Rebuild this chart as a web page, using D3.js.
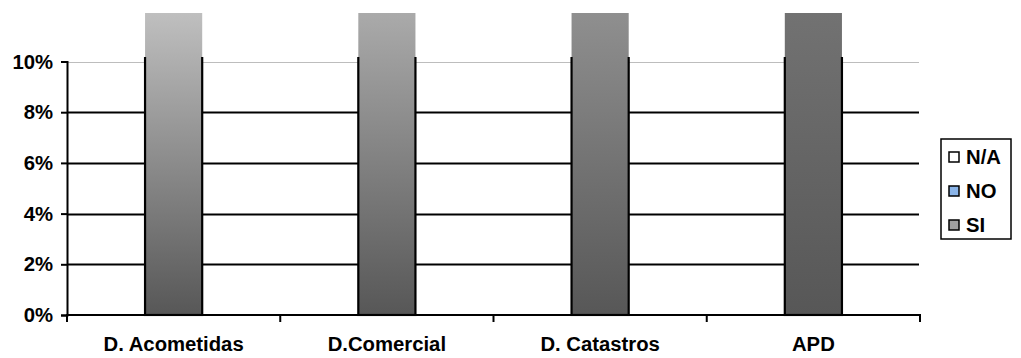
<!DOCTYPE html>
<html>
<head>
<meta charset="utf-8">
<script src="https://cdn.jsdelivr.net/npm/d3@7"></script>
<style>
  html, body { margin: 0; padding: 0; background: #fff; }
  svg { display: block; }
  text { font-family: "Liberation Sans", Arial, sans-serif; font-weight: bold; fill: #000; }
</style>
</head>
<body>
<svg id="chart" width="1021" height="358"></svg>
<script>
// ---- data ----
const categories = ["D. Acometidas", "D.Comercial", "D. Catastros", "APD"];
const seriesNames = ["N/A", "NO", "SI"];
const naValues = [0, 0, 0, 0];
const noValues = [0, 0, 0, 0];
const siValues = [1, 1, 1, 1];
const yTicks = [0, 0.02, 0.04, 0.06, 0.08, 0.10];

// ---- styles ----
const barTopColors = ["#bfbfbf", "#aaaaaa", "#8f8f8f", "#727272"];
const barBottomColor = "#575757";
const legendSwatch = { "N/A": "#ffffff", "NO": "#8ab4e8", "SI": "#a0a0a0" };
const fontSize = "20.3px";

const svg = d3.select("#chart");
const left = 67, right = 920, bottom = 315, top10 = 61.5, fillTop = 13;

const x = d3.scaleBand().domain(categories).range([left, right]).padding(0);
const y = d3.scaleLinear().domain([0, 0.1]).range([bottom, top10]);

const rows = categories.map((c, i) => ({ cat: c, "N/A": naValues[i], "NO": noValues[i], "SI": siValues[i] }));
const stacked = d3.stack().keys(seriesNames)(rows);

const defs = svg.append("defs");
categories.forEach((c, i) => {
  const g = defs.append("linearGradient").attr("id", "grad" + i)
    .attr("gradientUnits", "userSpaceOnUse")
    .attr("x1", 0).attr("x2", 0).attr("y1", fillTop).attr("y2", bottom);
  g.append("stop").attr("offset", 0).attr("stop-color", barTopColors[i]);
  g.append("stop").attr("offset", 1).attr("stop-color", barBottomColor);
});
defs.append("clipPath").attr("id", "fillClip").append("rect")
  .attr("x", 0).attr("y", fillTop).attr("width", 1021).attr("height", bottom - fillTop + 2);
defs.append("clipPath").attr("id", "lineClip").append("rect")
  .attr("x", 0).attr("y", top10 - 4.5).attr("width", 1021).attr("height", bottom - top10 + 6);

// gridlines
svg.append("g").selectAll("line").data(yTicks.filter(d => d > 0)).join("line")
  .attr("x1", left).attr("x2", right - 1)
  .attr("y1", d => Math.round(y(d)) + 0.5).attr("y2", d => Math.round(y(d)) + 0.5)
  .attr("stroke", d => d >= 0.1 ? "#bdbdbd" : "#000")
  .attr("stroke-width", d => d >= 0.1 ? 1 : 2);

// bars
const barW = x.bandwidth() * 0.268;
const siLayer = stacked.find(s => s.key === "SI");
const barG = svg.append("g");
siLayer.forEach((d, i) => {
  const cx = x(categories[i]) + x.bandwidth() / 2;
  const y0 = y(d[0]), y1 = y(d[1]);
  barG.append("rect").attr("clip-path", "url(#fillClip)")
    .attr("x", cx - barW / 2).attr("y", y1).attr("width", barW).attr("height", y0 - y1)
    .attr("fill", "url(#grad" + i + ")");
  barG.append("rect").attr("clip-path", "url(#lineClip)")
    .attr("x", cx - barW / 2).attr("y", y1).attr("width", barW).attr("height", y0 - y1)
    .attr("fill", "none").attr("stroke", "#000").attr("stroke-width", 2.2);
});

// y axis
const yAxis = d3.axisLeft(y).tickValues(yTicks).tickFormat(d3.format(".0%")).tickSize(6).tickPadding(8);
const ya = svg.append("g").attr("transform", `translate(${left},0)`).call(yAxis);
ya.select(".domain").attr("stroke", "#000").attr("stroke-width", 2);
ya.selectAll(".tick line").attr("stroke", "#000").attr("stroke-width", 2);
ya.selectAll(".tick text").style("font-size", fontSize).style("font-family", "'Liberation Sans', Arial, sans-serif")
  .style("font-weight", "bold").attr("fill", "#000");

// x axis
const xa = svg.append("g").attr("transform", `translate(0,${bottom})`);
xa.append("line").attr("x1", left - 1).attr("x2", right + 1).attr("y1", 0).attr("y2", 0)
  .attr("stroke", "#000").attr("stroke-width", 2);
const bounds = categories.map(c => x(c)).concat([right]);
xa.selectAll("line.tk").data(bounds).join("line").attr("class", "tk")
  .attr("x1", d => d).attr("x2", d => d).attr("y1", 0).attr("y2", 7)
  .attr("stroke", "#000").attr("stroke-width", 2);
xa.selectAll("text").data(categories).join("text")
  .attr("x", d => x(d) + x.bandwidth() / 2).attr("y", 36)
  .attr("text-anchor", "middle").style("font-size", fontSize).text(d => d);

// legend
const lg = svg.append("g");
lg.append("rect").attr("x", 941).attr("y", 139).attr("width", 70).attr("height", 100)
  .attr("fill", "#fff").attr("stroke", "#000").attr("stroke-width", 1.5);
seriesNames.forEach((s, i) => {
  const cy = 157 + i * 34;
  lg.append("rect").attr("x", 949).attr("y", cy - 5).attr("width", 10).attr("height", 10)
    .attr("fill", legendSwatch[s]).attr("stroke", "#000").attr("stroke-width", 1.5);
  lg.append("text").attr("x", 966).attr("y", cy + 7).style("font-size", fontSize).text(s);
});
</script>
</body>
</html>
